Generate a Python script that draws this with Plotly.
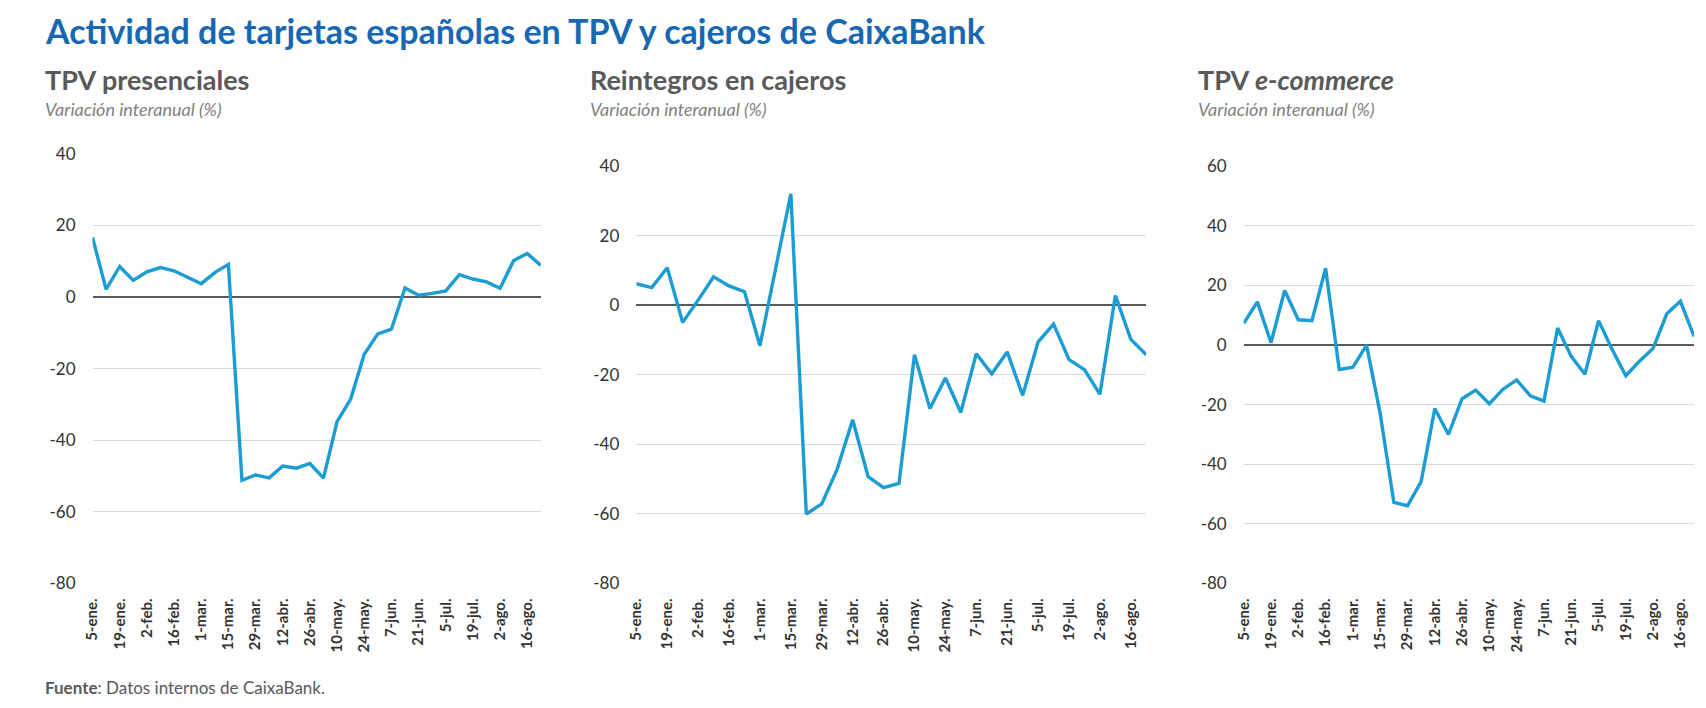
import plotly.graph_objects as go

weeks = ["5-ene.", "12-ene.", "19-ene.", "26-ene.", "2-feb.", "9-feb.", "16-feb.", "23-feb.",
         "1-mar.", "8-mar.", "15-mar.", "22-mar.", "29-mar.", "5-abr.", "12-abr.", "19-abr.",
         "26-abr.", "3-may.", "10-may.", "17-may.", "24-may.", "31-may.", "7-jun.", "14-jun.",
         "21-jun.", "28-jun.", "5-jul.", "12-jul.", "19-jul.", "26-jul.", "2-ago.", "9-ago.",
         "16-ago.", "23-ago."]
tick_labels = weeks[::2]

tpv_presenciales = [16.6, 2.1, 8.5, 4.6, 7.0, 8.2, 7.3, 5.6, 3.7, 6.8, 9.1, -51.2, -49.7, -50.5,
                    -47.2, -47.8, -46.5, -50.6, -34.8, -28.5, -16.0, -10.3, -9.0, 2.5, 0.5, 1.0,
                    1.7, 6.2, 5.0, 4.2, 2.4, 10.2, 12.1, 8.8]
reintegros = [6.2, 5.1, 10.8, -4.9, 1.5, 8.2, 5.6, 3.9, -11.6, 10.0, 32.1, -60.0, -57.1, -47.1,
              -32.9, -49.3, -52.4, -51.2, -14.2, -29.7, -20.9, -30.8, -13.9, -19.7, -13.4, -25.9,
              -10.5, -5.4, -15.6, -18.5, -25.6, 2.8, -9.8, -14.2]
ecommerce = [7.3, 14.5, 0.8, 18.3, 8.5, 8.2, 25.8, -8.2, -7.4, 0.0, -23.0, -52.8, -53.9, -45.8,
             -21.3, -30.0, -18.0, -15.1, -19.7, -14.8, -11.7, -17.0, -18.8, 5.7, -3.8, -9.8,
             8.2, -1.5, -10.3, -5.4, -1.1, 10.5, 14.7, 2.9]

y_ticks_a = [-80, -60, -40, -20, 0, 20, 40]
y_ticks_b = [-80, -60, -40, -20, 0, 20, 40, 60]

titles = ["TPV presenciales", "Reintegros en cajeros", "TPV <i>e-commerce</i>"]
subtitle = "Variación interanual (%)"
y_ranges = [[-80, 40], [-80, 40], [-80, 60]]
y_ticks = [y_ticks_a, y_ticks_a, y_ticks_b]
series = [tpv_presenciales, reintegros, ecommerce]

W, H = 1706, 708
x_px = [(83, 534), (630, 1143), (1241, 1694)]
y_top_px = [147, 160, 160]
y_bot_px = 590
title_x_px = [33, 581, 1193]

LINE = "#1b9cd2"
FONT = "Lato, 'Open Sans', sans-serif"

fig = go.Figure()
for i, (vals, yr) in enumerate(zip(series, y_ranges)):
    n = i + 1
    xa = "x" if n == 1 else f"x{n}"
    ya = "y" if n == 1 else f"y{n}"
    fig.add_trace(go.Scatter(x=weeks, y=vals, mode="lines", xaxis=xa, yaxis=ya,
                             line=dict(color=LINE, width=3.4), showlegend=False,
                             hoverinfo="x+y"))
    xkey = "xaxis" if n == 1 else f"xaxis{n}"
    ykey = "yaxis" if n == 1 else f"yaxis{n}"
    fig.update_layout({
        xkey: dict(domain=[x_px[i][0] / W, x_px[i][1] / W], anchor=ya, type="category",
                   categoryorder="array", categoryarray=weeks,
                   range=[0, len(weeks) - 1], tickmode="array", tickvals=tick_labels,
                   ticktext=[f"<b>{t}</b>" for t in tick_labels], tickangle=-90,
                   tickfont=dict(family=FONT, size=15, color="#333333"),
                   showgrid=False, showline=False, zeroline=False, ticks="", ticklen=0,
                   ticklabelstandoff=11),
        ykey: dict(domain=[1 - y_bot_px / H, 1 - y_top_px[i] / H], anchor=xa,
                   range=yr, tickmode="array", tickvals=y_ticks[i],
                   ticktext=[str(v) for v in y_ticks[i]],
                   showgrid=True, gridcolor="#d9d9d9", gridwidth=1,
                   zeroline=True, zerolinecolor="#595959", zerolinewidth=2.2,
                   showline=False, ticks="", ticklabelstandoff=16,
                   tickfont=dict(family=FONT, size=17, color="#333333")),
    })

annotations = [
    dict(text="<b>Actividad de tarjetas españolas en TPV y cajeros de CaixaBank</b>",
         x=33 / W, y=1 - 20 / H, xref="paper", yref="paper", xanchor="left", yanchor="middle",
         showarrow=False, font=dict(family=FONT, size=34, color="#1768b2")),
    dict(text="<b>Fuente</b>: Datos internos de CaixaBank.",
         x=33 / W, y=1 - 697 / H, xref="paper", yref="paper", xanchor="left", yanchor="middle",
         showarrow=False, font=dict(family=FONT, size=17, color="#595959")),
]
for i in range(3):
    annotations.append(dict(text=f"<b>{titles[i]}</b>", x=title_x_px[i] / W, y=1 - 71 / H,
                            xref="paper", yref="paper", xanchor="left", yanchor="middle",
                            showarrow=False, font=dict(family=FONT, size=27, color="#595959")))
    annotations.append(dict(text=f"<i>{subtitle}</i>", x=title_x_px[i] / W, y=1 - 101 / H,
                            xref="paper", yref="paper", xanchor="left", yanchor="middle",
                            showarrow=False, font=dict(family=FONT, size=18, color="#7f7f7f")))

fig.update_layout(width=W, height=H, margin=dict(l=0, r=0, t=0, b=0),
                  paper_bgcolor="white", plot_bgcolor="white", annotations=annotations,
                  font=dict(family=FONT))

fig.write_html("out.html", config={"displayModeBar": False},
               post_script="document.body.style.margin='0';document.body.style.overflow='hidden';")
